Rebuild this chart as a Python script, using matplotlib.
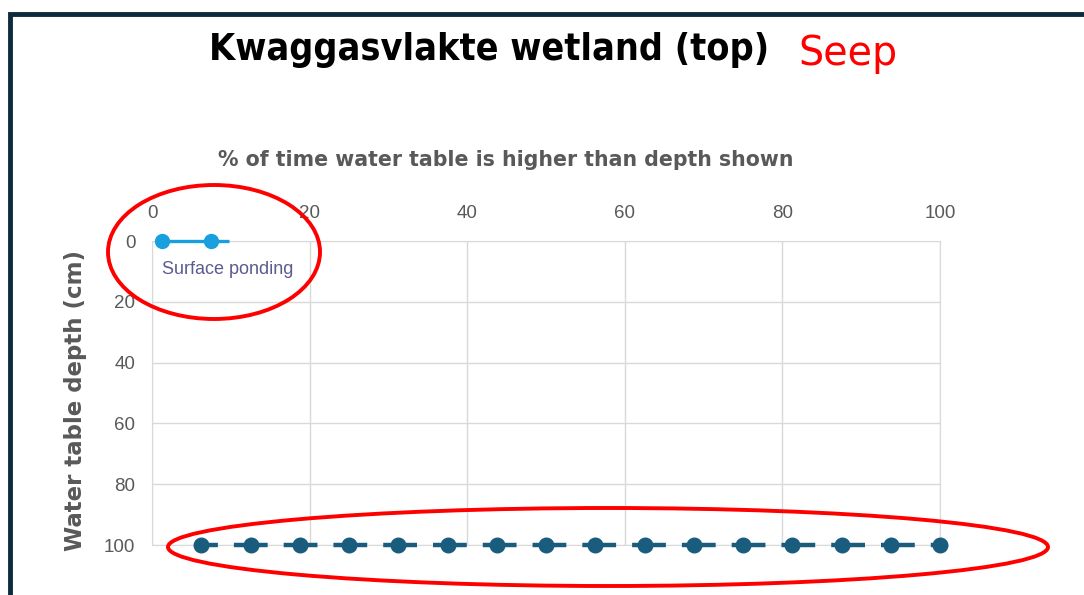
import matplotlib.pyplot as plt
from matplotlib.patches import Ellipse, Rectangle

# data
ticks = [0, 20, 40, 60, 80, 100]
pond_x = [1.25, 7.5, 9.75]
pond_y = [0, 0, 0]
deep_x = [6.25, 12.5, 18.75, 25, 31.25, 37.5, 43.75, 50, 56.25, 62.5,
          68.75, 75, 81.25, 87.5, 93.75, 100]
deep_y = [100] * 16

grey = "#595959"
fig = plt.figure(figsize=(10.84, 5.95), dpi=100)
ax = fig.add_axes([152 / 1084, 1 - 545 / 595, 788 / 1084, 304 / 595])

ax.plot(pond_x, pond_y, color="#18a0de", lw=2.4, marker="o", ms=10,
        markevery=[0, 1], clip_on=False, solid_capstyle="butt", zorder=5)
ax.plot(deep_x, deep_y, color="#1a5c7e", lw=3.2, marker="o", ms=10.5,
        linestyle=(3.8, (7.6, 3.6)), clip_on=False, zorder=5)
ax.text(1.3, 9.5, "Surface ponding", color="#5b5b8f", fontsize=13,
        family="Liberation Sans", va="center")

ax.set_xlim(0, 100)
ax.set_ylim(100, 0)
ax.set_xticks(ticks)
ax.set_yticks(ticks)
ax.xaxis.tick_top()
ax.tick_params(length=0, labelsize=13.5, labelcolor=grey)
ax.tick_params(axis="x", pad=14)
ax.tick_params(axis="y", pad=12)
for lab in ax.get_xticklabels() + ax.get_yticklabels():
    lab.set_family("Liberation Sans")
ax.grid(True, color="#d9d9d9", lw=1)
for s in ax.spines.values():
    s.set_color("#d9d9d9")

ax.set_ylabel("Water table depth (cm)", fontsize=16.5, fontweight="bold",
              color=grey)
ax.yaxis.set_label_coords(-0.082, 0.475)
fig.text(506 / 1084, 1 - 160 / 595, "% of time water table is higher than depth shown",
         ha="center", va="center", fontsize=14.8, fontweight="bold", color=grey)

fig.text(489 / 1084, 1 - 50 / 595, "Kwaggasvlakte wetland (top)", ha="center",
         va="center", fontsize=27, fontweight="bold", fontstretch="condensed",
         family="DejaVu Sans")
fig.text(848 / 1084, 1 - 54 / 595, "Seep", ha="center", va="center",
         fontsize=28.5, color="#ff0000", family="DejaVu Sans")

# frame and red highlight ellipses
fig.add_artist(Rectangle((10 / 1084, -0.1), 1.2, 1 - 14 / 595 + 0.1,
                         transform=fig.transFigure, fill=False,
                         edgecolor="#0d2b3e", lw=3.5))
fig.add_artist(Ellipse((214 / 1084, 1 - 252 / 595), 212 / 1084, 134 / 595,
                       transform=fig.transFigure, fill=False, edgecolor="red", lw=2.8))
fig.add_artist(Ellipse((608 / 1084, 1 - 547 / 595), 880 / 1084, 78 / 595,
                       transform=fig.transFigure, fill=False, edgecolor="red", lw=2.8))

fig.savefig("out.png", dpi=100)
